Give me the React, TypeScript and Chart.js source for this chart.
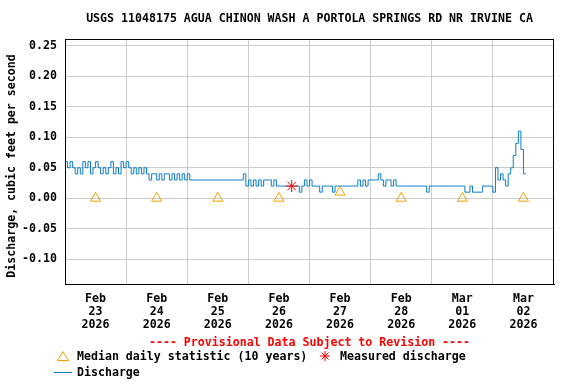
import React, { useEffect, useRef } from 'react';
import { Chart, registerables } from 'chart.js';

Chart.register(...registerables);

const TITLE = 'USGS 11048175 AGUA CHINON WASH A PORTOLA SPRINGS RD NR IRVINE CA';
const Y_TITLE = 'Discharge, cubic feet per second';
const PROVISIONAL = '---- Provisional Data Subject to Revision ----';

// Day categories (x axis labels, placed at noon of each day)
const dayMonths = ['Feb', 'Feb', 'Feb', 'Feb', 'Feb', 'Feb', 'Mar', 'Mar'];
const dayNumbers = ['23', '24', '25', '26', '27', '28', '01', '02'];
const dayYears = ['2026', '2026', '2026', '2026', '2026', '2026', '2026', '2026'];

// Y tick values
const yTicks = [-0.1, -0.05, 0, 0.05, 0.1, 0.15, 0.2, 0.25];
const Y_MIN = -0.1405;
const Y_MAX = 0.261;

// Hourly discharge values (cfs), hour 0..23 of each day
const dischargeFeb23 = [0.06, 0.05, 0.06, 0.05, 0.04, 0.05, 0.04, 0.06, 0.05, 0.06, 0.04, 0.05, 0.06, 0.05, 0.04, 0.05, 0.04, 0.05, 0.06, 0.04, 0.05, 0.04, 0.06, 0.05];
const dischargeFeb24 = [0.06, 0.05, 0.04, 0.05, 0.04, 0.05, 0.04, 0.05, 0.04, 0.03, 0.04, 0.04, 0.03, 0.04, 0.03, 0.04, 0.04, 0.03, 0.04, 0.03, 0.04, 0.03, 0.04, 0.03];
const dischargeFeb25 = [0.04, 0.03, 0.03, 0.03, 0.03, 0.03, 0.03, 0.03, 0.03, 0.03, 0.03, 0.03, 0.03, 0.03, 0.03, 0.03, 0.03, 0.03, 0.03, 0.03, 0.03, 0.03, 0.04, 0.02];
const dischargeFeb26 = [0.03, 0.02, 0.03, 0.02, 0.03, 0.02, 0.03, 0.03, 0.03, 0.02, 0.03, 0.02, 0.02, 0.02, 0.02, 0.02, 0.02, 0.02, 0.02, 0.02, 0.01, 0.02, 0.03, 0.02];
const dischargeFeb27 = [0.03, 0.02, 0.02, 0.02, 0.01, 0.02, 0.02, 0.02, 0.02, 0.01, 0.02, 0.02, 0.02, 0.02, 0.02, 0.02, 0.02, 0.02, 0.02, 0.03, 0.02, 0.03, 0.02, 0.03];
const dischargeFeb28 = [0.03, 0.03, 0.03, 0.04, 0.03, 0.02, 0.03, 0.03, 0.02, 0.03, 0.02, 0.02, 0.02, 0.02, 0.02, 0.02, 0.02, 0.02, 0.02, 0.02, 0.02, 0.02, 0.01, 0.02];
const dischargeMar01 = [0.02, 0.02, 0.02, 0.02, 0.02, 0.02, 0.02, 0.02, 0.02, 0.02, 0.02, 0.02, 0.02, 0.01, 0.01, 0.02, 0.01, 0.01, 0.01, 0.01, 0.02, 0.02, 0.02, 0.02];
const dischargeMar02 = [0.01, 0.05, 0.03, 0.04, 0.03, 0.02, 0.04, 0.05, 0.07, 0.09, 0.11, 0.08, 0.04, 0.04];

// Median daily statistic (10 years), one per day
const medianValues = [0, 0, 0, 0, 0.01, 0, 0, 0];

// Measured discharge
const measuredHour = 89; // hours since Feb 23 00:00 (Feb 26 17:00)
const measuredValue = 0.02;

const FONT_FAMILY = '"DejaVu Sans Mono", monospace';
const FONT_SIZE = 11.6;
const BLUE = '#0a7dc8';
const ORANGE = '#f5a000';
const RED = '#ff0000';

const overlayPlugin = {
  id: 'usgsOverlay',
  afterDraw(chart: any) {
    const ctx = chart.ctx as CanvasRenderingContext2D;
    const area = chart.chartArea;
    const cx = (area.left + area.right) / 2;
    ctx.save();
    // frame
    ctx.strokeStyle = '#000';
    ctx.lineWidth = 1;
    ctx.strokeRect(Math.round(area.left) + 0.5, Math.round(area.top) + 0.5,
      Math.round(area.right - area.left) - 1, Math.round(area.bottom - area.top));

    ctx.font = `bold ${FONT_SIZE}px ${FONT_FAMILY}`;
    ctx.textBaseline = 'middle';
    // title
    ctx.fillStyle = '#000';
    ctx.textAlign = 'center';
    ctx.fillText(TITLE, cx, 19);
    // y title
    ctx.save();
    ctx.translate(12, 166);
    ctx.rotate(-Math.PI / 2);
    ctx.fillText(Y_TITLE, 0, 0);
    ctx.restore();
    // provisional
    ctx.fillStyle = RED;
    ctx.fillText(PROVISIONAL, cx, 343);
    // legend
    ctx.textAlign = 'left';
    ctx.fillStyle = '#000';
    ctx.fillText('Median daily statistic (10 years)', 77, 357);
    ctx.fillText('Measured discharge', 340, 357);
    ctx.fillText('Discharge', 77, 373);
    // legend triangle
    ctx.strokeStyle = ORANGE;
    ctx.beginPath();
    ctx.moveTo(63, 351.5);
    ctx.lineTo(68.5, 360.5);
    ctx.lineTo(57.5, 360.5);
    ctx.closePath();
    ctx.stroke();
    // legend star
    ctx.strokeStyle = RED;
    const sx = 325, sy = 356, r = 5;
    ctx.beginPath();
    ctx.moveTo(sx - r, sy); ctx.lineTo(sx + r, sy);
    ctx.moveTo(sx, sy - r); ctx.lineTo(sx, sy + r);
    ctx.moveTo(sx - r * 0.7, sy - r * 0.7); ctx.lineTo(sx + r * 0.7, sy + r * 0.7);
    ctx.moveTo(sx - r * 0.7, sy + r * 0.7); ctx.lineTo(sx + r * 0.7, sy - r * 0.7);
    ctx.stroke();
    // legend line
    ctx.strokeStyle = BLUE;
    ctx.beginPath();
    ctx.moveTo(54, 372.5);
    ctx.lineTo(72, 372.5);
    ctx.stroke();
    ctx.restore();
  },
};

export default function App() {
  const canvasRef = useRef<HTMLCanvasElement | null>(null);

  useEffect(() => {
    if (!canvasRef.current) return;
    const allDischarge = [
      dischargeFeb23, dischargeFeb24, dischargeFeb25, dischargeFeb26,
      dischargeFeb27, dischargeFeb28, dischargeMar01, dischargeMar02,
    ];
    const dischargePoints: { x: number; y: number }[] = [];
    allDischarge.forEach((day, d) => {
      day.forEach((v, h) => dischargePoints.push({ x: d * 24 + h, y: v }));
    });
    const medianPoints = medianValues.map((v, i) => ({ x: i * 24 + 12, y: v }));
    const measuredPoints = [{ x: measuredHour, y: measuredValue }];
    const totalHours = dayNumbers.length * 24;

    const font = { family: FONT_FAMILY, size: FONT_SIZE, weight: 'bold' as const, lineHeight: 1.13 };

    const chart = new Chart(canvasRef.current, {
      type: 'line',
      data: {
        datasets: [
          {
            label: 'Discharge',
            data: dischargePoints,
            borderColor: BLUE,
            borderWidth: 1,
            pointRadius: 0,
            stepped: true,
            fill: false,
            order: 3,
          },
          {
            label: 'Median daily statistic (10 years)',
            data: medianPoints,
            showLine: false,
            pointStyle: 'triangle',
            pointRadius: 5.8,
            borderColor: ORANGE,
            backgroundColor: 'rgba(0,0,0,0)',
            pointBorderWidth: 1,
            order: 2,
          },
          {
            label: 'Measured discharge',
            data: measuredPoints,
            showLine: false,
            pointStyle: 'star',
            pointRadius: 6,
            borderColor: RED,
            backgroundColor: RED,
            pointBorderWidth: 1,
            order: 1,
          },
        ],
      },
      options: {
        responsive: false,
        animation: false,
        events: [],
        layout: { padding: { left: 0, right: 22, top: 39, bottom: 0 } },
        plugins: {
          legend: { display: false },
          tooltip: { enabled: false },
          title: { display: false },
        },
        scales: {
          x: {
            type: 'linear',
            min: 0,
            max: totalHours,
            afterBuildTicks: (scale: any) => {
              const t: { value: number }[] = [];
              for (let v = 0; v <= totalHours; v += 12) t.push({ value: v });
              scale.ticks = t;
            },
            afterFit: (scale: any) => {
              scale.height = 100;
            },
            ticks: {
              autoSkip: false,
              maxRotation: 0,
              minRotation: 0,
              padding: 8,
              color: '#000',
              font,
              callback: (value: any) => {
                const v = Number(value);
                if (v % 24 !== 12) return '';
                const i = (v - 12) / 24;
                return [dayMonths[i], dayNumbers[i], dayYears[i]];
              },
            },
            grid: {
              drawTicks: false,
              color: (ctx: any) => {
                const v = ctx.tick ? ctx.tick.value : 0;
                return v % 24 === 0 && v > 0 && v < totalHours ? '#cccccc' : 'rgba(0,0,0,0)';
              },
              lineWidth: 1,
            },
            border: { display: true, color: '#000' },
          },
          y: {
            type: 'linear',
            min: Y_MIN,
            max: Y_MAX,
            afterBuildTicks: (scale: any) => {
              scale.ticks = yTicks.map((v) => ({ value: v }));
            },
            afterFit: (scale: any) => {
              scale.width = 65;
            },
            ticks: {
              padding: 8,
              color: '#000',
              font,
              callback: (value: any) => Number(value).toFixed(2),
            },
            grid: {
              drawTicks: false,
              color: '#cccccc',
              lineWidth: 1,
            },
            border: { display: true, color: '#000' },
          },
        },
      },
      plugins: [overlayPlugin],
    });
    return () => chart.destroy();
  }, []);

  return (
    <div style={{ position: 'fixed', left: 0, top: 0, width: 576, height: 384, background: '#fff' }}>
      <canvas ref={canvasRef} width={576} height={384} style={{ width: 576, height: 384 }} />
    </div>
  );
}
